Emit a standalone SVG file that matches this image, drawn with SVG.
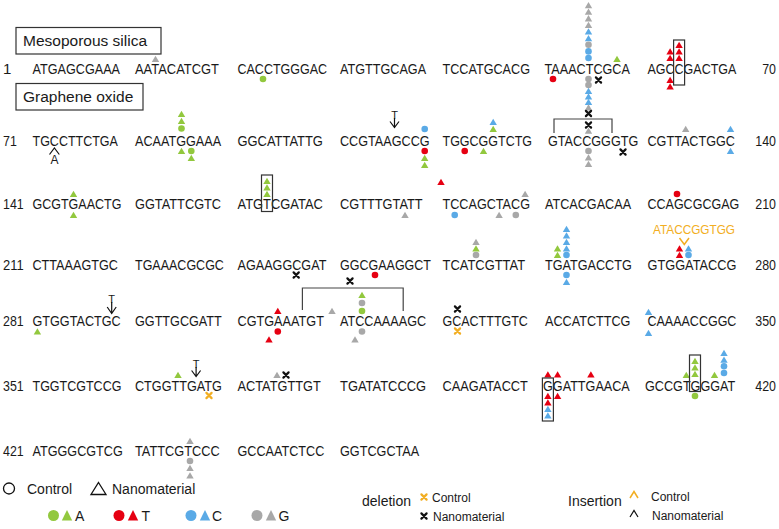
<svg xmlns="http://www.w3.org/2000/svg" width="779" height="529" viewBox="0 0 779 529">
<style>
text{font-family:"Liberation Sans",Arial,Helvetica,sans-serif;fill:#1a1a1a}
.s{font-size:15px}
.lb{font-size:15.5px}
.lg{font-size:14px}
.sm{font-size:12px}
.ins{font-size:11px;text-anchor:middle}
.g{fill:#92c83e}.r{fill:#e60012}.b{fill:#5aaae6}.k{fill:#a8a8a8}
.xb{stroke:#111}.xo{stroke:#f2ae22}
.br{fill:none;stroke:#444;stroke-width:1.2}
.box{fill:none;stroke:#333;stroke-width:1.2}
.ar{fill:none;stroke:#111;stroke-width:1.2}
.lo{fill:none;stroke:#111;stroke-width:1.3}
</style>
<defs>
<path id="t" d="M0,-3.3L3.7,3L-3.7,3Z"/>
<circle id="c" r="3.3"/>
<path id="x" d="M-2.6,-2.6L2.6,2.6M2.6,-2.6L-2.6,2.6" fill="none" stroke-width="2.2" stroke-linecap="round"/>
<path id="T" d="M0,-5.5L5.2,5L-5.2,5Z"/>
<circle id="C" r="5.5"/>
</defs>

<g id="label-mesoporous">
<rect class="box" x="16" y="27.5" width="145" height="26.5"/>
<text class="lb" x="23" y="46">Mesoporous silica</text>
</g>
<g id="label-graphene">
<rect class="box" x="16" y="83.5" width="127" height="26.5"/>
<text class="lb" x="23" y="101.5">Graphene oxide</text>
</g>

<g id="row1">
<text class="s" x="3" y="74">1</text>
<text class="s" x="32.5" y="74" textLength="87.5" lengthAdjust="spacingAndGlyphs">ATGAGCGAAA</text>
<text class="s" x="135" y="74" textLength="84" lengthAdjust="spacingAndGlyphs">AATACATCGT</text>
<text class="s" x="237.5" y="74" textLength="89.6" lengthAdjust="spacingAndGlyphs">CACCTGGGAC</text>
<text class="s" x="340" y="74" textLength="86.1" lengthAdjust="spacingAndGlyphs">ATGTTGCAGA</text>
<text class="s" x="442.5" y="74" textLength="87.5" lengthAdjust="spacingAndGlyphs">TCCATGCACG</text>
<text class="s" x="544.5" y="74" textLength="85.4" lengthAdjust="spacingAndGlyphs">TAAACTCGCA</text>
<text class="s" x="647.5" y="74" textLength="88.9" lengthAdjust="spacingAndGlyphs">AGCCGACTGA</text>
<text class="s" x="776" y="74" text-anchor="end" textLength="13.8" lengthAdjust="spacingAndGlyphs">70</text>
<use href="#t" class="k" x="155.5" y="59"/>
<use href="#c" class="g" x="263" y="79"/>
<use href="#c" class="r" x="553" y="79"/>
<use href="#t" class="k" x="588.5" y="5.2"/>
<use href="#t" class="k" x="588.5" y="11.8"/>
<use href="#t" class="k" x="588.5" y="18.4"/>
<use href="#t" class="k" x="588.5" y="25"/>
<use href="#t" class="b" x="588.5" y="31.6"/>
<use href="#t" class="b" x="588.5" y="38.2"/>
<use href="#c" class="k" x="588.5" y="44.8"/>
<use href="#c" class="b" x="588.5" y="51.4"/>
<use href="#c" class="b" x="588.5" y="58"/>
<use href="#c" class="k" x="588.5" y="79"/>
<use href="#c" class="k" x="588.5" y="85"/>
<use href="#t" class="b" x="588.5" y="91"/>
<use href="#t" class="b" x="588.5" y="96.5"/>
<use href="#t" class="b" x="588.5" y="102"/>
<use href="#t" class="k" x="588.5" y="107.5"/>
<use href="#x" class="xb" x="598.5" y="80"/>
<use href="#t" class="g" x="617" y="59"/>
<use href="#t" class="r" x="670.1" y="51.5"/>
<use href="#t" class="r" x="670.1" y="58"/>
<use href="#t" class="r" x="670.1" y="80"/>
<use href="#t" class="r" x="670.1" y="86.5"/>
<use href="#t" class="r" x="679.1" y="45"/>
<use href="#t" class="r" x="679.1" y="51.5"/>
<use href="#t" class="r" x="679.1" y="58"/>
<rect class="box" x="673.6" y="40" width="11" height="45"/>
</g>

<g id="row71">
<text class="s" x="3" y="146" textLength="13.8" lengthAdjust="spacingAndGlyphs">71</text>
<text class="s" x="32.5" y="146" textLength="85.4" lengthAdjust="spacingAndGlyphs">TGCCTTCTGA</text>
<text class="s" x="135" y="146" textLength="86.1" lengthAdjust="spacingAndGlyphs">ACAATGGAAA</text>
<text class="s" x="237.5" y="146" textLength="85.4" lengthAdjust="spacingAndGlyphs">GGCATTATTG</text>
<text class="s" x="340" y="146" textLength="89.6" lengthAdjust="spacingAndGlyphs">CCGTAAGCCG</text>
<text class="s" x="442.5" y="146" textLength="89.6" lengthAdjust="spacingAndGlyphs">TGGCGGTCTG</text>
<text class="s" x="548" y="146" textLength="90.3" lengthAdjust="spacingAndGlyphs">GTACCGGGTG</text>
<text class="s" x="647.5" y="146" textLength="87.5" lengthAdjust="spacingAndGlyphs">CGTTACTGGC</text>
<text class="s" x="776" y="146" text-anchor="end" textLength="20.7" lengthAdjust="spacingAndGlyphs">140</text>
<text x="54.4" y="163.5" font-size="12" text-anchor="middle">A</text>
<use href="#t" class="g" x="181.5" y="114"/>
<use href="#t" class="g" x="181.5" y="121"/>
<use href="#c" class="g" x="181.5" y="128.5"/>
<use href="#t" class="g" x="181.5" y="151"/>
<use href="#c" class="g" x="191.3" y="151"/>
<use href="#t" class="g" x="191.3" y="158"/>
<use href="#c" class="b" x="424.7" y="129"/>
<use href="#c" class="r" x="424.7" y="151"/>
<use href="#t" class="g" x="424.7" y="158"/>
<use href="#t" class="g" x="424.7" y="165"/>
<use href="#t" class="r" x="441" y="182"/>
<use href="#c" class="r" x="464.7" y="151"/>
<use href="#t" class="g" x="483.5" y="151"/>
<use href="#t" class="b" x="493.2" y="122"/>
<use href="#t" class="g" x="493.2" y="129"/>
<use href="#x" class="xb" x="588.5" y="113.5"/>
<use href="#x" class="xb" x="588.5" y="125"/>
<use href="#t" class="k" x="588.5" y="130.8"/>
<use href="#c" class="k" x="588.5" y="151"/>
<use href="#t" class="k" x="588.5" y="157.5"/>
<use href="#t" class="k" x="588.5" y="164"/>
<use href="#x" class="xb" x="623" y="152"/>
<use href="#t" class="k" x="685.7" y="129"/>
<use href="#t" class="b" x="730.5" y="129"/>
<use href="#t" class="b" x="730.5" y="151"/>
</g>

<g id="row141" transform="translate(0,-2)">
<text class="s" x="3" y="211" textLength="20.7" lengthAdjust="spacingAndGlyphs">141</text>
<text class="s" x="32.5" y="211" textLength="88.9" lengthAdjust="spacingAndGlyphs">GCGTGAACTG</text>
<text class="s" x="135" y="211" textLength="86.1" lengthAdjust="spacingAndGlyphs">GGTATTCGTC</text>
<text class="s" x="237.5" y="211" textLength="85.4" lengthAdjust="spacingAndGlyphs">ATGTCGATAC</text>
<text class="s" x="340" y="211" textLength="82.6" lengthAdjust="spacingAndGlyphs">CGTTTGTATT</text>
<text class="s" x="442.5" y="211" textLength="87.5" lengthAdjust="spacingAndGlyphs">TCCAGCTACG</text>
<text class="s" x="545" y="211" textLength="86.1" lengthAdjust="spacingAndGlyphs">ATCACGACAA</text>
<text class="s" x="647.5" y="211" textLength="91.7" lengthAdjust="spacingAndGlyphs">CCAGCGCGAG</text>
<text class="s" x="776" y="211" text-anchor="end" textLength="20.7" lengthAdjust="spacingAndGlyphs">210</text>
<use href="#t" class="g" x="73.5" y="196"/>
<use href="#t" class="g" x="73.5" y="217"/>
<rect class="box" x="261.5" y="177" width="11" height="36.5"/>
<use href="#t" class="g" x="267" y="183"/>
<use href="#t" class="g" x="267" y="189.5"/>
<use href="#t" class="g" x="267" y="196"/>
<use href="#t" class="k" x="405" y="217"/>
<use href="#c" class="b" x="454.7" y="217"/>
<use href="#t" class="k" x="499.1" y="217"/>
<use href="#c" class="k" x="515.8" y="217"/>
<use href="#t" class="k" x="525.1" y="196"/>
<use href="#c" class="r" x="677" y="196"/>
</g>

<g id="row211">
<text class="s" x="3" y="270" textLength="20.7" lengthAdjust="spacingAndGlyphs">211</text>
<text class="s" x="32.5" y="270" textLength="85.4" lengthAdjust="spacingAndGlyphs">CTTAAAGTGC</text>
<text class="s" x="135" y="270" textLength="88.9" lengthAdjust="spacingAndGlyphs">TGAAACGCGC</text>
<text class="s" x="237.5" y="270" textLength="88.9" lengthAdjust="spacingAndGlyphs">AGAAGGCGAT</text>
<text class="s" x="340" y="270" textLength="91" lengthAdjust="spacingAndGlyphs">GGCGAAGGCT</text>
<text class="s" x="442.5" y="270" textLength="82.6" lengthAdjust="spacingAndGlyphs">TCATCGTTAT</text>
<text class="s" x="545" y="270" textLength="86.8" lengthAdjust="spacingAndGlyphs">TGATGACCTG</text>
<text class="s" x="647.5" y="270" textLength="88.9" lengthAdjust="spacingAndGlyphs">GTGGATACCG</text>
<text class="s" x="776" y="270" text-anchor="end" textLength="20.7" lengthAdjust="spacingAndGlyphs">280</text>
<text x="653" y="234" font-size="13.5" style="fill:#f2ae22" textLength="82" lengthAdjust="spacingAndGlyphs">ATACCGGTGG</text>
<use href="#x" class="xb" x="296.2" y="275"/>
<use href="#c" class="r" x="375" y="275"/>
<use href="#c" class="k" x="476" y="255"/>
<use href="#t" class="g" x="476" y="248.5"/>
<use href="#t" class="k" x="476" y="242"/>
<use href="#t" class="g" x="557.5" y="255"/>
<use href="#t" class="g" x="557.5" y="248.5"/>
<use href="#c" class="b" x="566.5" y="255"/>
<use href="#t" class="b" x="566.5" y="248.5"/>
<use href="#t" class="b" x="566.5" y="242"/>
<use href="#t" class="b" x="566.5" y="235.5"/>
<use href="#t" class="b" x="566.5" y="229"/>
<use href="#c" class="b" x="566.5" y="275"/>
<use href="#t" class="b" x="566.5" y="282"/>
<use href="#t" class="r" x="679.5" y="248.5"/>
<use href="#t" class="r" x="679.5" y="255"/>
<use href="#t" class="b" x="688.5" y="248.5"/>
<use href="#c" class="b" x="688.5" y="255"/>
</g>

<g id="row281" transform="translate(0,-7)">
<text class="s" x="3" y="333" textLength="20.7" lengthAdjust="spacingAndGlyphs">281</text>
<text class="s" x="32.5" y="333" textLength="88.2" lengthAdjust="spacingAndGlyphs">GTGGTACTGC</text>
<text class="s" x="135" y="333" textLength="86.8" lengthAdjust="spacingAndGlyphs">GGTTGCGATT</text>
<text class="s" x="237.5" y="333" textLength="86.4" lengthAdjust="spacingAndGlyphs">CGTGAAATGT</text>
<text class="s" x="340" y="333" textLength="86.1" lengthAdjust="spacingAndGlyphs">ATCCAAAAGC</text>
<text class="s" x="442.5" y="333" textLength="85.4" lengthAdjust="spacingAndGlyphs">GCACTTTGTC</text>
<text class="s" x="545" y="333" textLength="85.4" lengthAdjust="spacingAndGlyphs">ACCATCTTCG</text>
<text class="s" x="647.5" y="333" textLength="88.9" lengthAdjust="spacingAndGlyphs">CAAAACCGGC</text>
<text class="s" x="776" y="333" text-anchor="end" textLength="20.7" lengthAdjust="spacingAndGlyphs">350</text>
<use href="#t" class="g" x="37.4" y="338.5"/>
<use href="#t" class="r" x="277.8" y="318"/>
<use href="#c" class="r" x="277.8" y="338.5"/>
<use href="#t" class="r" x="269" y="346.5"/>
<use href="#t" class="k" x="332" y="318"/>
<use href="#x" class="xb" x="350" y="288"/>
<use href="#t" class="g" x="362" y="302"/>
<use href="#c" class="k" x="362" y="310"/>
<use href="#c" class="g" x="362" y="318"/>
<use href="#c" class="k" x="362" y="338.5"/>
<use href="#t" class="k" x="355" y="346.5"/>
<use href="#x" class="xb" x="457.5" y="316"/>
<use href="#x" class="xo" x="457.5" y="338"/>
<use href="#t" class="b" x="648.5" y="319"/>
<use href="#t" class="b" x="648.5" y="340"/>
</g>

<g id="row351" transform="translate(0,-7)">
<text class="s" x="3" y="398" textLength="20.7" lengthAdjust="spacingAndGlyphs">351</text>
<text class="s" x="32.5" y="398" textLength="88.9" lengthAdjust="spacingAndGlyphs">TGGTCGTCCG</text>
<text class="s" x="135" y="398" textLength="86.8" lengthAdjust="spacingAndGlyphs">CTGGTTGATG</text>
<text class="s" x="237.5" y="398" textLength="83.3" lengthAdjust="spacingAndGlyphs">ACTATGTTGT</text>
<text class="s" x="340" y="398" textLength="86.1" lengthAdjust="spacingAndGlyphs">TGATATCCCG</text>
<text class="s" x="442.5" y="398" textLength="85.4" lengthAdjust="spacingAndGlyphs">CAAGATACCT</text>
<text class="s" x="543" y="398" textLength="86.8" lengthAdjust="spacingAndGlyphs">GGATTGAACA</text>
<text class="s" x="645" y="398" textLength="90.3" lengthAdjust="spacingAndGlyphs">GCCGTGGGAT</text>
<text class="s" x="776" y="398" text-anchor="end" textLength="20.7" lengthAdjust="spacingAndGlyphs">420</text>
<use href="#t" class="g" x="178" y="382"/>
<use href="#x" class="xo" x="209" y="402.5"/>
<use href="#t" class="k" x="277" y="382"/>
<use href="#x" class="xb" x="286" y="382"/>
<use href="#t" class="r" x="547.9" y="381.5"/>
<rect class="box" x="542.4" y="385" width="11" height="43"/>
<use href="#t" class="r" x="547.9" y="403"/>
<use href="#t" class="r" x="547.9" y="409.5"/>
<use href="#t" class="b" x="547.9" y="416"/>
<use href="#t" class="b" x="547.9" y="422.5"/>
<use href="#t" class="r" x="557.6" y="381.5"/>
<use href="#t" class="r" x="557.6" y="403"/>
<use href="#t" class="r" x="590.9" y="381.5"/>
<use href="#t" class="g" x="686.3" y="382"/>
<rect class="box" x="689.5" y="362" width="11" height="36.5"/>
<use href="#t" class="g" x="695" y="368"/>
<use href="#t" class="g" x="695" y="374.5"/>
<use href="#t" class="g" x="695" y="381"/>
<use href="#c" class="g" x="695" y="403"/>
<use href="#t" class="g" x="714.5" y="382"/>
<use href="#t" class="b" x="724" y="360"/>
<use href="#t" class="b" x="724" y="366.7"/>
<use href="#c" class="b" x="724" y="373.3"/>
<use href="#c" class="b" x="724" y="380"/>
</g>

<g id="row421" transform="translate(0,-4)">
<text class="s" x="3" y="460" textLength="20.7" lengthAdjust="spacingAndGlyphs">421</text>
<text class="s" x="32.5" y="460" textLength="90.3" lengthAdjust="spacingAndGlyphs">ATGGGCGTCG</text>
<text class="s" x="135" y="460" textLength="84.7" lengthAdjust="spacingAndGlyphs">TATTCGTCCC</text>
<text class="s" x="237.5" y="460" textLength="86.8" lengthAdjust="spacingAndGlyphs">GCCAATCTCC</text>
<text class="s" x="340" y="460" textLength="79.2" lengthAdjust="spacingAndGlyphs">GGTCGCTAA</text>
<use href="#t" class="k" x="190" y="445"/>
<use href="#c" class="k" x="190" y="465"/>
<use href="#t" class="k" x="190" y="472"/>
<use href="#t" class="k" x="190" y="479.5"/>
</g>

<g id="connectors">
<path class="br" d="M554,133V119H612V133"/>
<path class="br" d="M302.4,310V288H403.2V311"/>
<text class="ins" x="394.5" y="119">T</text>
<path class="ar" d="M394.5,118V127M390,121.5L394.5,127.5L399,121.5"/>
<g transform="translate(0,-7)">
<text class="ins" x="111.7" y="310">T</text>
<path class="ar" d="M111.7,309V320M107.2,314L111.7,320.5L116.2,314"/>
<text class="ins" x="196.1" y="375">T</text>
<path class="ar" d="M196.1,374V383.5M191.6,377.5L196.1,383.5L200.6,377.5"/>
</g>
<path class="ar" d="M49.5,154.5L54.4,148L59.3,154.5"/>
<path fill="none" stroke="#f2ae22" stroke-width="1.5" d="M679.5,238L684.3,244.5L689,238"/>
</g>

<g id="legend">
<circle class="lo" cx="9" cy="488.5" r="5.5"/>
<text class="lg" x="27" y="494">Control</text>
<path class="lo" d="M98.5,482.5L106,494.5L91,494.5Z"/>
<text class="lg" x="112" y="494">Nanomaterial</text>
<use href="#C" class="g" x="53.5" y="515.5"/>
<use href="#T" class="g" x="67" y="515.5"/>
<text class="lg" x="75" y="520.5">A</text>
<use href="#C" class="r" x="119" y="515.5"/>
<use href="#T" class="r" x="133" y="515.5"/>
<text class="lg" x="141.5" y="520.5">T</text>
<use href="#C" class="b" x="191" y="515.5"/>
<use href="#T" class="b" x="205" y="515.5"/>
<text class="lg" x="212" y="520.5">C</text>
<use href="#C" class="k" x="257" y="515.5"/>
<use href="#T" class="k" x="271" y="515.5"/>
<text class="lg" x="278.5" y="520.5">G</text>
<text class="lg" x="362" y="506">deletion</text>
<use href="#x" class="xo" x="424" y="497"/>
<text class="sm" x="432" y="502">Control</text>
<use href="#x" class="xb" x="424" y="516"/>
<text class="sm" x="433" y="520.5">Nanomaterial</text>
<text class="lg" x="568" y="506">Insertion</text>
<path fill="none" stroke="#f2ae22" stroke-width="1.5" d="M630,498L634,491.5L638,498"/>
<text class="sm" x="651" y="501">Control</text>
<path class="ar" stroke-width="1.5" d="M630,517L634,510.5L638,517"/>
<text class="sm" x="652" y="520">Nanomaterial</text>
</g>
</svg>
